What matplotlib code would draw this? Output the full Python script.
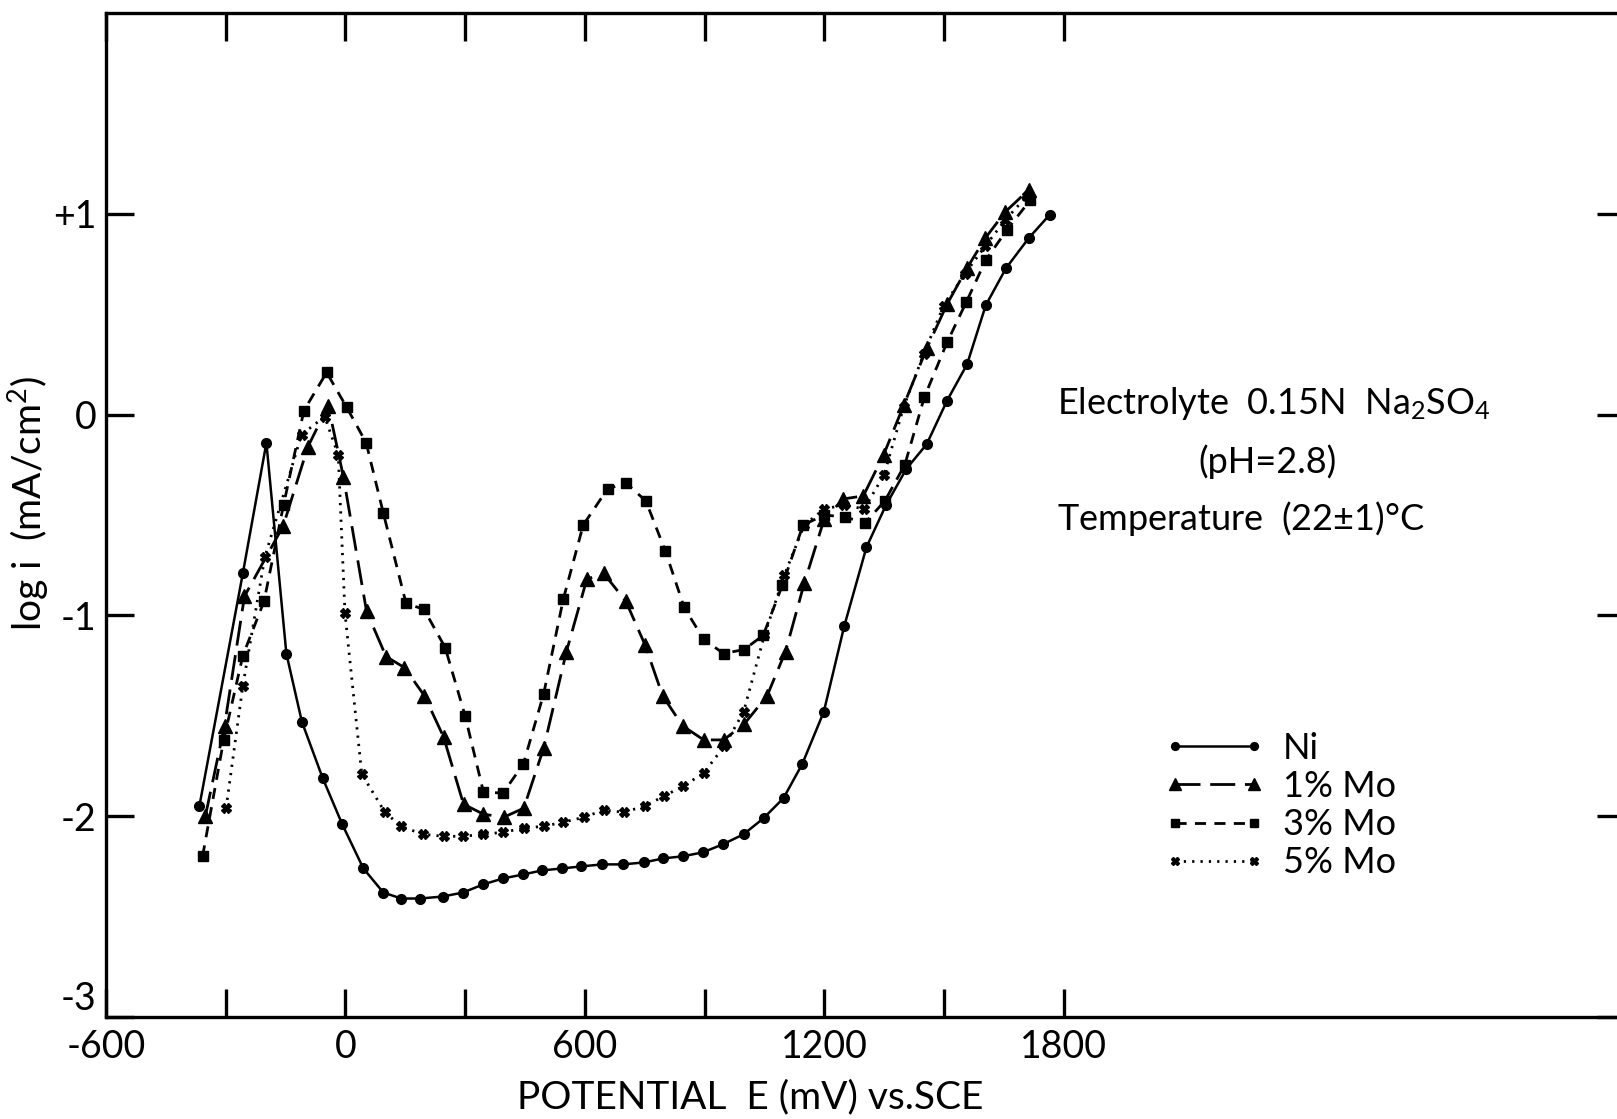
import numpy as np
import matplotlib
matplotlib.use('Agg')
import matplotlib.pyplot as plt
from matplotlib.ticker import FixedLocator

# potentiodynamic curves, log i (mA/cm2) vs E (mV vs SCE)
ni_E = [-366, -257, -198, -148, -109, -57, -8, 45, 95, 140, 187, 244, 295, 345, 395,
        446, 493, 544, 591, 644, 696, 749, 797, 845, 896, 946, 998, 1048, 1098, 1145,
        1199, 1250, 1306, 1355, 1406, 1457, 1508, 1558, 1605, 1656, 1713, 1765]
ni_logi = [-1.95, -0.79, -0.14, -1.19, -1.53, -1.81, -2.04, -2.26, -2.38, -2.41, -2.41,
           -2.40, -2.38, -2.34, -2.31, -2.29, -2.27, -2.26, -2.25, -2.24, -2.24, -2.23,
           -2.21, -2.20, -2.18, -2.14, -2.09, -2.01, -1.91, -1.74, -1.48, -1.055, -0.66,
           -0.45, -0.27, -0.147, 0.07, 0.25, 0.545, 0.73, 0.88, 0.995]

mo1_E = [-351, -303, -253, -156, -94, -43, -5, 53, 102, 148, 198, 246, 296, 346, 397,
         447, 497, 554, 605, 647, 703, 751, 795, 845, 898, 948, 1000, 1057, 1103, 1150,
         1200, 1248, 1298, 1349, 1400, 1457, 1508, 1558, 1604, 1654, 1713]
mo1_logi = [-2.0, -1.55, -0.905, -0.555, -0.16, 0.045, -0.31, -0.98, -1.205, -1.26,
            -1.40, -1.605, -1.94, -1.99, -2.005, -1.96, -1.66, -1.18, -0.82, -0.79,
            -0.93, -1.147, -1.40, -1.55, -1.62, -1.62, -1.54, -1.40, -1.18, -0.84,
            -0.52, -0.42, -0.405, -0.2, 0.05, 0.33, 0.55, 0.73, 0.88, 1.01, 1.12]

mo3_E = [-358, -305, -257, -204, -155, -104, -47, 3, 52, 95, 152, 197, 250, 300, 346,
         395, 446, 497, 546, 596, 657, 703, 753, 802, 849, 898, 948, 999, 1047, 1095,
         1147, 1200, 1252, 1302, 1352, 1402, 1451, 1508, 1556, 1605, 1658, 1717]
mo3_logi = [-2.2, -1.62, -1.2, -0.93, -0.45, 0.02, 0.21, 0.037, -0.14, -0.49, -0.94,
            -0.97, -1.16, -1.50, -1.88, -1.885, -1.74, -1.39, -0.92, -0.55, -0.37,
            -0.34, -0.43, -0.68, -0.96, -1.12, -1.19, -1.17, -1.10, -0.85, -0.55,
            -0.50, -0.51, -0.54, -0.43, -0.25, 0.087, 0.36, 0.56, 0.77, 0.92, 1.07]

mo5_E = [-299, -257, -202, -110, -52, -18, -1, 41, 99, 139, 194, 246, 295, 346, 395,
         447, 497, 546, 598, 647, 697, 751, 798, 847, 898, 950, 998, 1050, 1100, 1150,
         1200, 1250, 1300, 1350, 1399, 1449, 1499, 1552, 1604, 1654, 1709]
mo5_logi = [-1.96, -1.35, -0.71, -0.10, -0.01, -0.2, -0.99, -1.79, -1.98, -2.05, -2.09,
            -2.10, -2.10, -2.09, -2.08, -2.06, -2.05, -2.03, -2.005, -1.97, -1.98,
            -1.95, -1.90, -1.85, -1.785, -1.65, -1.48, -1.10, -0.80, -0.55, -0.47,
            -0.45, -0.47, -0.30, 0.037, 0.30, 0.54, 0.70, 0.84, 0.97, 1.09]

labels = ['Ni', '1% Mo', '3% Mo', '5% Mo']
xtick_major = [-600, 0, 600, 1200, 1800]
xtick_minor = [-300, 300, 900, 1500]
ytick_vals = [-3, -2, -1, 0, 1]
ytick_labels = ['-3', '-2', '-1', '0', '+1']

plt.rcParams['font.family'] = ['Lato', 'DejaVu Sans']
plt.rcParams['mathtext.default'] = 'regular'

W, H = 1617, 1119
fig = plt.figure(figsize=(W / 100, H / 100), dpi=100)
# right spine sits just past the edge of the scan
ax = fig.add_axes([106 / W, 1 - 1017 / H, (1625 - 106) / W, (1017 - 13) / H])

ax.plot(ni_E, ni_logi, '-', color='black', lw=1.8, marker='o', ms=7, label=labels[0])
ax.plot(mo1_E, mo1_logi, color='black', lw=2.0, dashes=(9, 3.5), marker='^', ms=10,
        label=labels[1])
ax.plot(mo3_E, mo3_logi, color='black', lw=2.0, dashes=(4, 3), marker='s', ms=7.5,
        label=labels[2])
ax.plot(mo5_E, mo5_logi, color='black', lw=2.0, dashes=(0.8, 2.2), marker='X', ms=7,
        label=labels[3])

ax.set_xlim(-600, 3207)
ax.set_ylim(-3, 2)

for s in ax.spines.values():
    s.set_linewidth(2.4)

ax.xaxis.set_major_locator(FixedLocator(xtick_major))
ax.xaxis.set_minor_locator(FixedLocator(xtick_minor))
ax.set_xticklabels([str(v) for v in xtick_major])
ax.yaxis.set_major_locator(FixedLocator(ytick_vals))
ax.set_yticklabels(ytick_labels)
ax.tick_params(which='both', direction='in', length=20, width=2.4,
               top=True, right=True, labelsize=27, pad=9)
ax.tick_params(axis='y', pad=7)
# the -3 sits just above the -600
ax.yaxis.get_major_ticks()[0].label1.set_verticalalignment('bottom')

ax.set_xlabel('POTENTIAL  E (mV) vs.SCE', fontsize=28)
ax.xaxis.set_label_coords(0.424, -0.062)
ax.set_ylabel('log i  (mA/cm$^2$)', fontsize=28)
ax.yaxis.set_label_coords(-0.036, 0.512)

ax.text(0.6537, 0.639, 'Electrolyte  0.15N  Na$_2$SO$_4$', transform=fig.transFigure,
        fontsize=26, ha='left', va='center')
ax.text(0.784, 0.587, '(pH=2.8)', transform=fig.transFigure,
        fontsize=26, ha='center', va='center')
ax.text(0.6537, 0.537, 'Temperature  (22$\\pm$1)$\\degree$C', transform=fig.transFigure,
        fontsize=26, ha='left', va='center')

ax.legend(loc='upper left', bbox_to_anchor=(1146 / W, 1 - 714 / H),
          bbox_transform=fig.transFigure, frameon=False, numpoints=2,
          handlelength=2.8, handletextpad=0.5, labelspacing=0.14, borderpad=0,
          fontsize=26, markerscale=0.8)

plt.savefig('out.png', dpi=100)
